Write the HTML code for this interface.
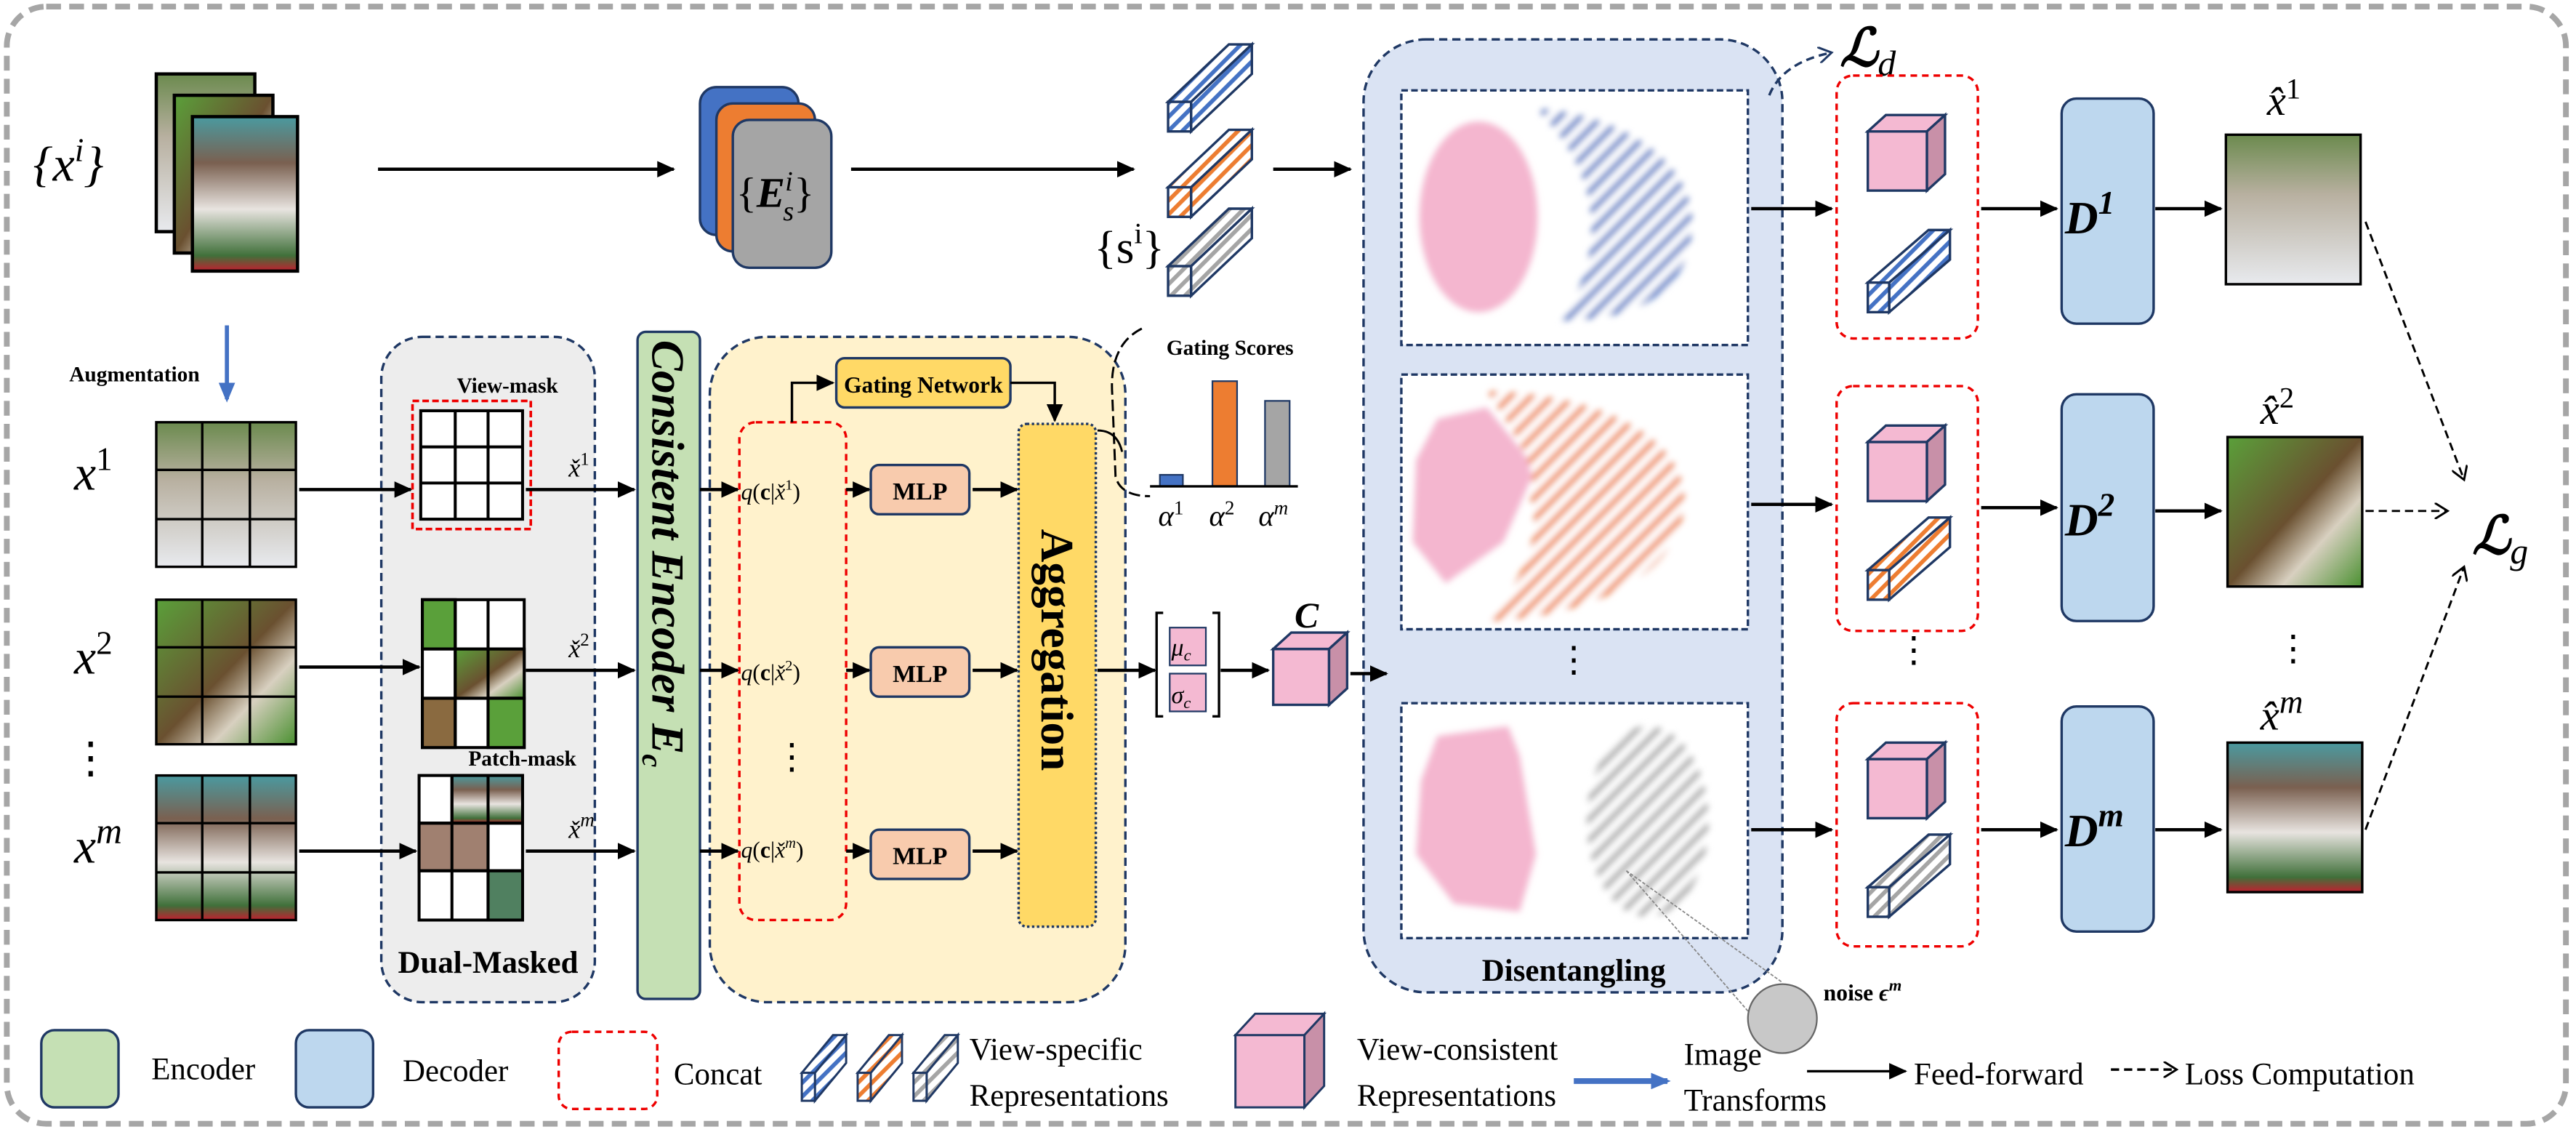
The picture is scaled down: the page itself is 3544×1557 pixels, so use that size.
<!DOCTYPE html>
<html><head><meta charset="utf-8"><style>
html,body{margin:0;padding:0;background:#fff}
svg{display:block;font-family:"Liberation Serif","DejaVu Serif",serif}
svg text{font-family:"Liberation Serif","DejaVu Serif",serif}
</style></head><body>
<svg width="3544" height="1557" viewBox="0 0 1568 689" xmlns="http://www.w3.org/2000/svg" font-family="Liberation Serif, serif">
<defs>
<marker id="ar" markerWidth="11" markerHeight="10" refX="10" refY="5" orient="auto" markerUnits="userSpaceOnUse"><path d="M0,0 L11,5 L0,10 z" fill="#000"/></marker>
<marker id="ao" markerWidth="10" markerHeight="10" refX="8" refY="5" orient="auto" markerUnits="userSpaceOnUse"><path d="M0,0 L8,5 L0,10" fill="none" stroke="#000" stroke-width="1.3"/></marker>
<marker id="aon" markerWidth="10" markerHeight="10" refX="8" refY="5" orient="auto" markerUnits="userSpaceOnUse"><path d="M0,0 L8,5 L0,10" fill="none" stroke="#1f3864" stroke-width="1.3"/></marker>
<marker id="ab" markerWidth="12" markerHeight="10" refX="10" refY="5" orient="auto" markerUnits="userSpaceOnUse"><path d="M0,0 L12,5 L0,10 z" fill="#4472c4"/></marker>
<pattern id="hb" width="6" height="6" patternUnits="userSpaceOnUse" patternTransform="rotate(45)"><rect width="6" height="6" fill="#fff"/><rect width="2.5" height="6" fill="#4472c4"/></pattern>
<pattern id="ho" width="6" height="6" patternUnits="userSpaceOnUse" patternTransform="rotate(45)"><rect width="6" height="6" fill="#fff"/><rect width="2.5" height="6" fill="#ed7d31"/></pattern>
<pattern id="hg" width="6" height="6" patternUnits="userSpaceOnUse" patternTransform="rotate(45)"><rect width="6" height="6" fill="#fff"/><rect width="2.5" height="6" fill="#a5a5a5"/></pattern>
<pattern id="Hb" width="9" height="9" patternUnits="userSpaceOnUse" patternTransform="rotate(45)"><rect width="9" height="9" fill="#fff"/><rect width="3.5" height="9" fill="#4472c4"/></pattern>
<pattern id="Ho" width="9" height="9" patternUnits="userSpaceOnUse" patternTransform="rotate(45)"><rect width="9" height="9" fill="#fff"/><rect width="3.5" height="9" fill="#ed7d31"/></pattern>
<pattern id="Hg" width="9" height="9" patternUnits="userSpaceOnUse" patternTransform="rotate(45)"><rect width="9" height="9" fill="#fff"/><rect width="3.5" height="9" fill="#a5a5a5"/></pattern>
<filter id="bl"><feGaussianBlur stdDeviation="2"/></filter>
<linearGradient id="c1" x1="0" y1="0" x2="0" y2="1"><stop offset="0" stop-color="#6b8a4e"/><stop offset=".4" stop-color="#b8b0a0"/><stop offset="1" stop-color="#e8eaee"/></linearGradient>
<linearGradient id="c2" x1="0" y1="0" x2="1" y2="1"><stop offset="0" stop-color="#5aa03a"/><stop offset=".5" stop-color="#6a5030"/><stop offset=".7" stop-color="#d8d0c0"/><stop offset="1" stop-color="#4a9030"/></linearGradient>
<linearGradient id="c3" x1="0" y1="0" x2="0" y2="1"><stop offset="0" stop-color="#4a9aa0"/><stop offset=".3" stop-color="#7a6050"/><stop offset=".6" stop-color="#e8e4e0"/><stop offset=".9" stop-color="#40703a"/><stop offset="1" stop-color="#c02030"/></linearGradient>
</defs>

<rect x="4" y="4" width="1558" height="680" rx="24" fill="none" stroke="#a6a6a6" stroke-width="3.5" stroke-dasharray="9,5"/>

<text x="20" y="110" font-size="30" font-style="italic">{x<tspan dy="-12" font-size="20">i</tspan><tspan dy="12">}</tspan></text>
<rect x="95" y="45" width="60" height="96" fill="url(#c1)" stroke="#000" stroke-width="2"/>
<rect x="106" y="58" width="60" height="96" fill="url(#c2)" stroke="#000" stroke-width="2"/>
<rect x="117" y="71" width="64" height="94" fill="url(#c3)" stroke="#000" stroke-width="2"/>
<line x1="230" y1="103" x2="410" y2="103" stroke="#000" stroke-width="2" marker-end="url(#ar)"/>
<rect x="426" y="53" width="60" height="90" rx="10" fill="#4472c4" stroke="#1f3864" stroke-width="1.5"/>
<rect x="436" y="63" width="60" height="90" rx="10" fill="#ed7d31" stroke="#1f3864" stroke-width="1.5"/>
<rect x="446" y="73" width="60" height="90" rx="10" fill="#a5a5a5" stroke="#1f3864" stroke-width="1.5"/>
<text x="448" y="126" font-size="26">{<tspan font-weight="bold" font-style="italic">E</tspan><tspan dy="-10" font-size="17" font-style="italic">i</tspan><tspan dx="-6" dy="18" font-size="17" font-style="italic">s</tspan><tspan dy="-8">}</tspan></text>
<line x1="518" y1="103" x2="690" y2="103" stroke="#000" stroke-width="2" marker-end="url(#ar)"/>
<g stroke="#1f3864" stroke-width="1.5">
<polygon points="711,62 725,62 762,27 748,27" fill="url(#hb)"/><polygon points="725,62 725,80 762,45 762,27" fill="url(#hb)"/><rect x="711" y="62" width="14" height="18" fill="url(#hb)"/>
<polygon points="711,114 725,114 762,79 748,79" fill="url(#ho)"/><polygon points="725,114 725,132 762,97 762,79" fill="url(#ho)"/><rect x="711" y="114" width="14" height="18" fill="url(#ho)"/>
<polygon points="711,162 725,162 762,127 748,127" fill="url(#hg)"/><polygon points="725,162 725,180 762,145 762,127" fill="url(#hg)"/><rect x="711" y="162" width="14" height="18" fill="url(#hg)"/>
</g>
<text x="666" y="160" font-size="28">{s<tspan dy="-12" font-size="18">i</tspan><tspan dy="12">}</tspan></text>
<line x1="775" y1="103" x2="822" y2="103" stroke="#000" stroke-width="2" marker-end="url(#ar)"/>

<rect x="830" y="24" width="255" height="580" rx="38" fill="#dae3f3" stroke="#1f3864" stroke-width="1.5" stroke-dasharray="5,3"/>
<g stroke="#1f3864" stroke-width="1.5" stroke-dasharray="4,2" fill="#fff">
<rect x="853" y="55" width="211" height="155"/>
<rect x="853" y="228" width="211" height="155"/>
<rect x="853" y="428" width="211" height="143"/>
</g>
<g filter="url(#bl)">
<ellipse cx="900" cy="132" rx="36" ry="58" fill="#f4b6cf"/>
<path d="M935,66 C990,70 1030,100 1030,135 C1030,175 1000,195 950,195 C975,160 980,110 935,66z" fill="url(#Hb)"/>
<path d="M875,255 L905,248 L935,285 L915,330 L880,355 L860,330 L862,280z" fill="#f4b6cf"/>
<path d="M905,238 C980,240 1030,270 1025,310 C1020,350 970,375 905,378 C930,350 940,320 930,300 C940,290 920,260 905,238z" fill="url(#Ho)"/>
<path d="M875,448 L918,442 L925,460 L935,520 L925,555 L885,550 L862,520 L865,475z" fill="#f4b6cf"/>
<ellipse cx="1003" cy="500" rx="37" ry="58" fill="url(#Hg)"/>
</g>
<text x="958" y="409" font-size="22" text-anchor="middle">⋮</text>
<text x="958" y="597" font-size="19" font-weight="bold" text-anchor="middle">Disentangling</text>
<path d="M1077,58 Q1085,38 1115,32" fill="none" stroke="#1f3864" stroke-width="1.5" stroke-dasharray="5,3" marker-end="url(#aon)"/>
<text x="1120" y="40" font-size="32" font-weight="bold" font-style="italic">ℒ<tspan dy="6" font-size="22" font-weight="normal">d</tspan></text>
<line x1="990" y1="530" x2="1085" y2="598" stroke="#888" stroke-width=".8" stroke-dasharray="2,1"/>
<line x1="990" y1="530" x2="1068" y2="620" stroke="#888" stroke-width=".8" stroke-dasharray="2,1"/>
<circle cx="1085" cy="620" r="21" fill="#c8c8c8" stroke="#666" stroke-width="1"/>
<text x="1110" y="609" font-size="14" font-weight="bold">noise <tspan font-style="italic">ϵ</tspan><tspan dy="-6" font-size="10" font-style="italic">m</tspan></text>

<g stroke="#e00" stroke-width="1.5" stroke-dasharray="4,3" fill="none">
<rect x="1118" y="46" width="86" height="160" rx="10"/>
<rect x="1118" y="235" width="86" height="149" rx="10"/>
<rect x="1118" y="428" width="86" height="148" rx="10"/>
</g>
<g stroke="#1f3864" stroke-width="1.5">
<rect x="1137" y="80" width="36" height="36" fill="#f4b9d2"/><polygon points="1137,80 1148,70 1184,70 1173,80" fill="#f4b9d2"/><polygon points="1173,80 1184,70 1184,106 1173,116" fill="#c890a8"/>
<rect x="1137" y="269" width="36" height="36" fill="#f4b9d2"/><polygon points="1137,269 1148,259 1184,259 1173,269" fill="#f4b9d2"/><polygon points="1173,269 1184,259 1184,295 1173,305" fill="#c890a8"/>
<rect x="1137" y="462" width="36" height="36" fill="#f4b9d2"/><polygon points="1137,462 1148,452 1184,452 1173,462" fill="#f4b9d2"/><polygon points="1173,462 1184,452 1184,488 1173,498" fill="#c890a8"/>
<polygon points="1137,172 1150,172 1187,140 1174,140" fill="url(#hb)"/><polygon points="1150,172 1150,190 1187,158 1187,140" fill="url(#hb)"/><rect x="1137" y="172" width="13" height="18" fill="url(#hb)"/>
<polygon points="1137,347 1150,347 1187,315 1174,315" fill="url(#ho)"/><polygon points="1150,347 1150,365 1187,333 1187,315" fill="url(#ho)"/><rect x="1137" y="347" width="13" height="18" fill="url(#ho)"/>
<polygon points="1137,540 1150,540 1187,508 1174,508" fill="url(#hg)"/><polygon points="1150,540 1150,558 1187,526 1187,508" fill="url(#hg)"/><rect x="1137" y="540" width="13" height="18" fill="url(#hg)"/>
</g>
<text x="1165" y="403" font-size="22" text-anchor="middle">⋮</text>
<g stroke="#000" stroke-width="2" marker-end="url(#ar)">
<line x1="1066" y1="127" x2="1115" y2="127"/><line x1="1066" y1="307" x2="1115" y2="307"/><line x1="1066" y1="505" x2="1115" y2="505"/>
<line x1="1206" y1="127" x2="1252" y2="127"/><line x1="1206" y1="309" x2="1252" y2="309"/><line x1="1206" y1="505" x2="1252" y2="505"/>
<line x1="1312" y1="127" x2="1352" y2="127"/><line x1="1312" y1="311" x2="1352" y2="311"/><line x1="1312" y1="505" x2="1352" y2="505"/>
</g>
<g fill="#bdd7ee" stroke="#1f3864" stroke-width="1.5">
<rect x="1255" y="60" width="56" height="137" rx="9"/>
<rect x="1255" y="240" width="56" height="138" rx="9"/>
<rect x="1255" y="430" width="56" height="137" rx="9"/>
</g>
<g font-size="28" font-weight="bold" font-style="italic">
<text x="1257" y="142">D<tspan dy="-12" font-size="20">1</tspan></text>
<text x="1257" y="326">D<tspan dy="-12" font-size="20">2</tspan></text>
<text x="1257" y="515">D<tspan dy="-12" font-size="20">m</tspan></text>
</g>
<rect x="1355" y="82" width="82" height="91" fill="url(#c1)" stroke="#000" stroke-width="1.5"/>
<rect x="1356" y="266" width="82" height="91" fill="url(#c2)" stroke="#000" stroke-width="1.5"/>
<rect x="1356" y="452" width="82" height="91" fill="url(#c3)" stroke="#000" stroke-width="1.5"/>
<g font-size="26" font-style="italic">
<text x="1380" y="70">x̂<tspan dy="-10" font-size="18" font-style="normal">1</tspan></text>
<text x="1376" y="258">x̂<tspan dy="-10" font-size="18" font-style="normal">2</tspan></text>
<text x="1376" y="444">x̂<tspan dy="-10" font-size="20">m</tspan></text>
</g>
<text x="1396" y="402" font-size="22" text-anchor="middle">⋮</text>
<g stroke="#000" stroke-width="1.3" stroke-dasharray="5,3" fill="none" marker-end="url(#ao)">
<line x1="1440" y1="135" x2="1500" y2="292"/>
<line x1="1440" y1="311" x2="1490" y2="311"/>
<line x1="1440" y1="505" x2="1500" y2="345"/>
</g>
<text x="1505" y="337" font-size="32" font-weight="bold" font-style="italic">ℒ<tspan dy="6" font-size="22" font-weight="normal">g</tspan></text>

<text x="42" y="232" font-size="13" font-weight="bold">Augmentation</text>
<line x1="138" y1="198" x2="138" y2="243" stroke="#4472c4" stroke-width="2.5" marker-end="url(#ab)"/>
<g font-size="30" font-style="italic">
<text x="45" y="298">x<tspan dy="-12" font-size="20" font-style="normal">1</tspan></text>
<text x="45" y="410">x<tspan dy="-12" font-size="20" font-style="normal">2</tspan></text>
<text x="45" y="525">x<tspan dy="-12" font-size="22">m</tspan></text>
</g>
<text x="55" y="470" font-size="26" text-anchor="middle">⋮</text>
<g stroke="#000" stroke-width="1.5">
<rect x="95" y="257" width="85" height="88" fill="url(#c1)"/>
<rect x="95" y="365" width="85" height="88" fill="url(#c2)"/>
<rect x="95" y="472" width="85" height="88" fill="url(#c3)"/>
<path d="M123,257V345M152,257V345M95,286H180M95,316H180M123,365V453M152,365V453M95,394H180M95,424H180M123,472V560M152,472V560M95,501H180M95,531H180" fill="none"/>
</g>
<rect x="232" y="205" width="130" height="405" rx="25" fill="#ededed" stroke="#1f3864" stroke-width="1.5" stroke-dasharray="5,3"/>
<g stroke="#000" stroke-width="2" marker-end="url(#ar)">
<line x1="182" y1="298" x2="250" y2="298"/><line x1="182" y1="406" x2="255" y2="406"/><line x1="182" y1="518" x2="253" y2="518"/>
</g>
<text x="278" y="239" font-size="13" font-weight="bold">View-mask</text>
<rect x="251" y="244" width="72" height="78" fill="none" stroke="#e00" stroke-width="1.6" stroke-dasharray="4,2"/>
<g stroke="#000" stroke-width="1.8">
<rect x="256" y="250" width="62" height="66" fill="#fff"/>
<rect x="257" y="365" width="62" height="90" fill="#fff"/>
<rect x="257" y="365" width="20" height="30" fill="#5aa03a"/><rect x="277" y="395" width="42" height="30" fill="url(#c2)"/><rect x="257" y="425" width="20" height="30" fill="#8a6a40"/><rect x="297" y="425" width="22" height="30" fill="#5aa03a"/>
<rect x="255" y="472" width="63" height="88" fill="#fff"/>
<rect x="275" y="472" width="43" height="29" fill="url(#c3)"/><rect x="255" y="501" width="42" height="29" fill="#a08070"/><rect x="297" y="530" width="21" height="30" fill="#508060"/>
<path d="M277,250V316M297,250V316M256,272H318M256,294H318M277,365V455M297,365V455M257,395H319M257,425H319M275,472V560M297,472V560M255,501H318M255,530H318" fill="none"/>
</g>
<text x="285" y="466" font-size="13" font-weight="bold">Patch-mask</text>
<g font-size="16" font-style="italic"><text x="346" y="290">x̌<tspan dy="-7" font-size="11" font-style="normal">1</tspan></text><text x="346" y="400">x̌<tspan dy="-7" font-size="11" font-style="normal">2</tspan></text><text x="346" y="510">x̌<tspan dy="-7" font-size="12">m</tspan></text></g>
<g stroke="#000" stroke-width="2" marker-end="url(#ar)">
<line x1="320" y1="298" x2="386" y2="298"/><line x1="320" y1="408" x2="386" y2="408"/><line x1="320" y1="518" x2="386" y2="518"/>
</g>
<text x="297" y="592" font-size="19" font-weight="bold" text-anchor="middle">Dual-Masked</text>
<rect x="388" y="202" width="38" height="406" rx="5" fill="#c5e0b4" stroke="#1f3864" stroke-width="1.5"/>
<text transform="translate(397,207) rotate(90)" font-size="28" font-weight="bold" font-style="italic">Consistent Encoder E<tspan dy="6" font-size="18">c</tspan></text>

<rect x="432" y="205" width="253" height="405" rx="35" fill="#fff2cc" stroke="#1f3864" stroke-width="1.5" stroke-dasharray="5,3"/>
<rect x="509" y="218" width="106" height="30" rx="5" fill="#ffd966" stroke="#1f3864" stroke-width="1.5"/>
<text x="562" y="239" font-size="14" font-weight="bold" text-anchor="middle">Gating Network</text>
<rect x="450" y="257" width="65" height="303" rx="10" fill="none" stroke="#e00" stroke-width="1.5" stroke-dasharray="4,3"/>
<rect x="620" y="258" width="47" height="306" rx="5" fill="#ffd966" stroke="#1f3864" stroke-width="1.5" stroke-dasharray="1.5,1.5"/>
<text transform="translate(634,322) rotate(90)" font-size="28" font-weight="bold">Aggregation</text>
<path d="M482,257V233H507" fill="none" stroke="#000" stroke-width="1.5" marker-end="url(#ar)"/>
<path d="M615,233H642V256" fill="none" stroke="#000" stroke-width="1.5" marker-end="url(#ar)"/>
<g font-size="14"><text x="451" y="304"><tspan font-style="italic">q</tspan>(<tspan font-weight="bold">c</tspan>|<tspan font-style="italic">x̌</tspan><tspan dy="-6" font-size="9">1</tspan><tspan dy="6">)</tspan></text>
<text x="451" y="414"><tspan font-style="italic">q</tspan>(<tspan font-weight="bold">c</tspan>|<tspan font-style="italic">x̌</tspan><tspan dy="-6" font-size="9">2</tspan><tspan dy="6">)</tspan></text>
<text x="451" y="522"><tspan font-style="italic">q</tspan>(<tspan font-weight="bold">c</tspan>|<tspan font-style="italic">x̌</tspan><tspan dy="-6" font-size="9" font-style="italic">m</tspan><tspan dy="6">)</tspan></text></g>
<text x="482" y="468" font-size="22" text-anchor="middle">⋮</text>
<g fill="#f8cbad" stroke="#1f3864" stroke-width="1.5">
<rect x="530" y="283" width="60" height="30" rx="5"/><rect x="530" y="394" width="60" height="30" rx="5"/><rect x="530" y="505" width="60" height="30" rx="5"/>
</g>
<g font-size="15" font-weight="bold" text-anchor="middle"><text x="560" y="304">MLP</text><text x="560" y="415">MLP</text><text x="560" y="526">MLP</text></g>
<g stroke="#000" stroke-width="2" marker-end="url(#ar)">
<line x1="426" y1="298" x2="449" y2="298"/><line x1="426" y1="408" x2="449" y2="408"/><line x1="426" y1="518" x2="449" y2="518"/>
<line x1="515" y1="298" x2="529" y2="298"/><line x1="515" y1="408" x2="529" y2="408"/><line x1="515" y1="518" x2="529" y2="518"/>
<line x1="592" y1="298" x2="619" y2="298"/><line x1="592" y1="408" x2="619" y2="408"/><line x1="592" y1="518" x2="619" y2="518"/>
<line x1="668" y1="408" x2="703" y2="408"/>
</g>
<path d="M695,200 Q675,210 677,240 L679,290 Q682,302 700,302" fill="none" stroke="#000" stroke-width="1.3" stroke-dasharray="7,3"/>
<path d="M668,262 Q680,262 683,275" fill="none" stroke="#000" stroke-width="1.3"/>
<text x="710" y="216" font-size="13" font-weight="bold">Gating Scores</text>
<rect x="706" y="289" width="14" height="7" fill="#4472c4" stroke="#1f3864"/>
<rect x="738" y="232" width="15" height="64" fill="#ed7d31" stroke="#1f3864"/>
<rect x="770" y="244" width="15" height="52" fill="#a5a5a5" stroke="#1f3864"/>
<line x1="700" y1="296" x2="790" y2="296" stroke="#000" stroke-width="1.5"/>
<g font-size="18" font-style="italic"><text x="705" y="320">α<tspan dy="-7" font-size="12" font-style="normal">1</tspan></text><text x="736" y="320">α<tspan dy="-7" font-size="12" font-style="normal">2</tspan></text><text x="766" y="320">α<tspan dy="-7" font-size="12">m</tspan></text></g>
<path d="M708,373H704V436H708M738,373H742V436H738" fill="none" stroke="#000" stroke-width="1.5"/>
<rect x="712" y="382" width="22" height="23" fill="#f4b9d2" stroke="#1f3864"/>
<rect x="712" y="410" width="22" height="23" fill="#f4b9d2" stroke="#1f3864"/>
<g font-size="15" font-style="italic"><text x="713" y="399">μ<tspan dy="3" font-size="10">c</tspan></text><text x="713" y="428">σ<tspan dy="3" font-size="10">c</tspan></text></g>
<line x1="743" y1="408" x2="772" y2="408" stroke="#000" stroke-width="2" marker-end="url(#ar)"/>
<g stroke="#1f3864" stroke-width="1.5">
<rect x="775" y="395" width="34" height="34" fill="#f4b9d2"/><polygon points="775,395 786,385 820,385 809,395" fill="#f4b9d2"/><polygon points="809,395 820,385 820,419 809,429" fill="#c890a8"/>
</g>
<text x="788" y="382" font-size="22" font-weight="bold" font-style="italic">C</text>
<line x1="822" y1="410" x2="844" y2="410" stroke="#000" stroke-width="2" marker-end="url(#ar)"/>

<g stroke="#1f3864" stroke-width="1.5">
<rect x="25" y="627" width="47" height="47" rx="8" fill="#c5e0b4"/>
<rect x="180" y="627" width="47" height="47" rx="8" fill="#bdd7ee"/>
</g>
<rect x="340" y="628" width="60" height="47" rx="8" fill="none" stroke="#e00" stroke-width="1.5" stroke-dasharray="4,3"/>
<g font-size="19"><text x="92" y="657">Encoder</text><text x="245" y="658">Decoder</text><text x="410" y="660">Concat</text>
<text x="590" y="645">View-specific</text><text x="590" y="673">Representations</text>
<text x="826" y="645">View-consistent</text><text x="826" y="673">Representations</text>
<text x="1025" y="648">Image</text><text x="1025" y="676">Transforms</text>
<text x="1165" y="660">Feed-forward</text><text x="1330" y="660">Loss Computation</text></g>
<g stroke="#1f3864" stroke-width="1.3">
<polygon points="488,653 496,653 515,630 507,630" fill="url(#hb)"/><polygon points="496,653 496,670 515,647 515,630" fill="url(#hb)"/><rect x="488" y="653" width="8" height="17" fill="url(#hb)"/>
<polygon points="522,653 530,653 549,630 541,630" fill="url(#ho)"/><polygon points="530,653 530,670 549,647 549,630" fill="url(#ho)"/><rect x="522" y="653" width="8" height="17" fill="url(#ho)"/>
<polygon points="556,653 564,653 583,630 575,630" fill="url(#hg)"/><polygon points="564,653 564,670 583,647 583,630" fill="url(#hg)"/><rect x="556" y="653" width="8" height="17" fill="url(#hg)"/>
<rect x="752" y="630" width="42" height="44" fill="#f4b9d2"/><polygon points="752,630 764,617 806,617 794,630" fill="#f4b9d2"/><polygon points="794,630 806,617 806,661 794,674" fill="#c890a8"/>
</g>
<line x1="958" y1="658" x2="1015" y2="658" stroke="#4472c4" stroke-width="3.5" marker-end="url(#ab)"/>
<line x1="1100" y1="652" x2="1160" y2="652" stroke="#000" stroke-width="1.5" marker-end="url(#ar)"/>
<line x1="1285" y1="651" x2="1325" y2="651" stroke="#000" stroke-width="1.5" stroke-dasharray="5,3" marker-end="url(#ao)"/>
</svg>
</body></html>
